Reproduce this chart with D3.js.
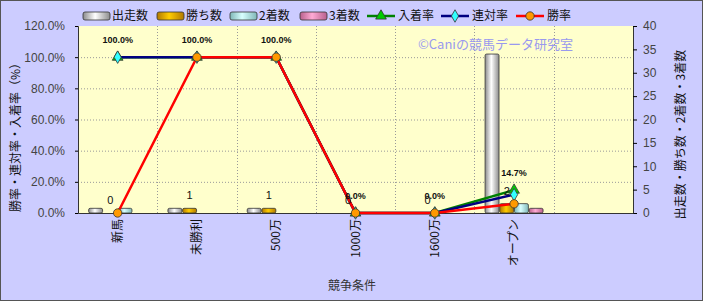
<!DOCTYPE html>
<html>
<head>
<meta charset="utf-8">
<script src="https://cdn.jsdelivr.net/npm/d3@7"></script>
<style>
  body { margin: 0; background: #fff; }
  svg text { font-family: "Noto Sans CJK JP", "Noto Sans", sans-serif; }
</style>
</head>
<body>
<div id="chart"></div>
<script>
const categories = ['新馬', '未勝利', '500万', '1000万', '1600万', 'オープン', '']
const runs = [1, 1, 1, 0, 0, 34, null]
const wins = [0, 1, 1, 0, 0, 2, null]
const seconds = [1, 0, 0, 0, 0, 2, null]
const thirds = [0, 0, 0, 0, 0, 1, null]
const placeRate = [100, 100, 100, 0, 0, 14.7, null]
const rentaiRate = [100, 100, 100, 0, 0, 11.8, null]
const winRate = [0, 100, 100, 0, 0, 5.9, null]
const leftTicks = [0, 20, 40, 60, 80, 100, 120]
const rightTicks = [0, 5, 10, 15, 20, 25, 30, 35, 40]

const W = 703, H = 301
const margin = { top: 26, left: 78, right: 70, bottom: 88 }
const width = W - margin.left - margin.right
const height = H - margin.top - margin.bottom

const svg = d3.select('#chart').append('svg')
    .attr('width', W)
    .attr('height', H)

// gradients for the bars
const defs = svg.append('defs')
const barColors = [
  { id: 'gRuns', c0: '#8c8c8c', c1: '#ffffff' },
  { id: 'gWins', c0: '#b07800', c1: '#ffcc00' },
  { id: 'gSec', c0: '#7fb7b7', c1: '#d8ffff' },
  { id: 'gThird', c0: '#b8608c', c1: '#ffaad4' }
]
barColors.forEach(function(b) {
  const g = defs.append('linearGradient').attr('id', b.id)
      .attr('x1', 0).attr('x2', 1).attr('y1', 0).attr('y2', 0)
  g.append('stop').attr('offset', '0%').attr('stop-color', b.c0)
  g.append('stop').attr('offset', '45%').attr('stop-color', b.c1)
  g.append('stop').attr('offset', '100%').attr('stop-color', b.c0)
})

svg.append('rect').attr('x', 0.5).attr('y', 0.5)
    .attr('width', W - 1).attr('height', H - 1)
    .attr('fill', '#ccccff').attr('stroke', '#555')

const g = svg.append('g')
    .attr('transform', 'translate(' + margin.left + ',' + margin.top + ')')

g.append('rect').attr('width', width).attr('height', height).attr('fill', '#ffffcc')

const x = d3.scaleBand().domain(d3.range(categories.length)).range([0, width])
const yL = d3.scaleLinear().domain([0, 120]).range([height, 0])
const yR = d3.scaleLinear().domain([0, 40]).range([height, 0])
const cx = function(i) { return x(i) + x.bandwidth() / 2 }

// grid
g.selectAll('.hgrid').data(leftTicks.slice(1, -1)).enter().append('line')
    .attr('x1', 0).attr('x2', width)
    .attr('y1', d => yL(d) + 0.5).attr('y2', d => yL(d) + 0.5)
    .attr('stroke', '#999').attr('stroke-dasharray', '1,2')
g.selectAll('.vgrid').data(d3.range(1, categories.length)).enter().append('line')
    .attr('x1', d => Math.round(x(d)) + 0.5).attr('x2', d => Math.round(x(d)) + 0.5)
    .attr('y1', 0).attr('y2', height)
    .attr('stroke', '#999').attr('stroke-dasharray', '1,2')

// bars
const series = [runs, wins, seconds, thirds]
const inner = d3.scaleBand().domain(d3.range(4)).range([-29, 29]).paddingInner(0.05)
series.forEach(function(s, k) {
  const pts = s.map((v, i) => ({ v: v, i: i })).filter(d => d.v !== null && d.v > 0)
  g.selectAll('.bar' + k).data(pts).enter().append('rect')
      .attr('x', d => cx(d.i) + inner(k))
      .attr('y', d => yR(d.v))
      .attr('width', inner.bandwidth())
      .attr('height', d => height - yR(d.v))
      .attr('rx', 1.5)
      .attr('fill', 'url(#' + barColors[k].id + ')')
      .attr('stroke', '#333').attr('stroke-width', 0.8)
})

// axes
const axL = g.append('g').call(d3.axisLeft(yL).tickValues(leftTicks)
    .tickFormat(d => d.toFixed(1) + '%').tickSize(3))
const axR = g.append('g').attr('transform', 'translate(' + width + ',0)')
    .call(d3.axisRight(yR).tickValues(rightTicks).tickSize(4).tickSizeOuter(0))
const axB = g.append('g').attr('transform', 'translate(0,' + height + ')')
    .call(d3.axisBottom(x).tickSize(0).tickFormat(i => categories[i]))
axL.select('.domain').attr('stroke', '#333')
axR.select('.domain').attr('stroke', '#333')
axB.select('.domain').attr('stroke', '#333')
axL.selectAll('text').attr('font-size', 12).attr('fill', '#444').attr('dx', -7)
    .style('font-family', 'Arial, "Liberation Sans", sans-serif')
axR.selectAll('text').attr('font-size', 12).attr('fill', '#444').attr('dx', 3)
    .style('font-family', 'Arial, "Liberation Sans", sans-serif')
axB.selectAll('text')
    .attr('font-size', 12).attr('fill', '#111')
    .attr('transform', 'rotate(-90)')
    .attr('text-anchor', 'end')
    .attr('x', -6).attr('y', 0).attr('dy', '0.35em')

// lines
const lineDefs = [
  { data: placeRate, color: '#008000', marker: 'triangle', fill: '#00cc00' },
  { data: rentaiRate, color: '#000080', marker: 'diamond', fill: '#33ffff' },
  { data: winRate, color: '#ff0000', marker: 'circle', fill: '#ff9900' }
]
const line = d3.line().defined(d => d.v !== null).x(d => cx(d.i)).y(d => yL(d.v))
const sym = {
  triangle: d3.symbol().type(d3.symbolTriangle).size(50),
  diamond: d3.symbol().type(d3.symbolDiamond).size(45),
  circle: d3.symbol().type(d3.symbolCircle).size(55)
}
lineDefs.forEach(function(L) {
  const pts = L.data.map((v, i) => ({ v: v, i: i }))
  g.append('path').datum(pts).attr('d', line)
      .attr('fill', 'none').attr('stroke', L.color).attr('stroke-width', 2.5)
})
lineDefs.forEach(function(L) {
  const pts = L.data.map((v, i) => ({ v: v, i: i })).filter(d => d.v !== null)
  g.selectAll('.m' + L.marker).data(pts).enter().append('path')
      .attr('d', sym[L.marker])
      .attr('transform', d => 'translate(' + cx(d.i) + ',' + yL(d.v) + ')')
      .attr('fill', L.fill).attr('stroke', '#333').attr('stroke-width', 0.8)
})

// data labels
g.selectAll('.lblRate').data(placeRate.filter(d => d !== null)).enter().append('text')
    .attr('x', (d, i) => cx(i))
    .attr('y', d => yL(d) - 14)
    .attr('text-anchor', 'middle')
    .attr('font-size', 9).attr('font-weight', 'bold').attr('fill', '#111')
    .style('font-family', 'Arial, "Liberation Sans", sans-serif')
    .text(d => d.toFixed(1) + '%')
g.selectAll('.lblWins').data(wins.filter(d => d !== null)).enter().append('text')
    .attr('x', (d, i) => cx(i) + inner(1) + inner.bandwidth() / 2)
    .attr('y', d => yR(d) - 9)
    .attr('text-anchor', 'middle')
    .attr('font-size', 11).attr('fill', '#111')
    .style('font-family', 'Arial, "Liberation Sans", sans-serif')
    .text(d => d)

// watermark
g.append('text').attr('x', 418 - margin.left).attr('y', 49 - margin.top)
    .attr('font-size', 13).attr('fill', '#9999ee')
    .text('©Caniの競馬データ研究室')

// axis titles
svg.append('text').attr('transform', 'translate(20,' + (margin.top + height / 2 + 15) + ') rotate(-90)')
    .attr('text-anchor', 'middle').attr('font-size', 12).attr('fill', '#111')
    .text('勝率・連対率・入着率（%）')
svg.append('text').attr('transform', 'translate(685,' + (margin.top + height / 2 + 15) + ') rotate(-90)')
    .attr('text-anchor', 'middle').attr('font-size', 12).attr('fill', '#111')
    .text('出走数・勝ち数・2着数・3着数')
svg.append('text').attr('x', 352).attr('y', 290)
    .attr('text-anchor', 'middle').attr('font-size', 12).attr('fill', '#333')
    .text('競争条件')

// legend
const legend = svg.append('g').attr('transform', 'translate(0,16)')
const barLegend = ['出走数', '勝ち数', '2着数', '3着数']
const barLegX = [83, 157, 230, 300]
barLegend.forEach(function(name, k) {
  legend.append('rect').attr('x', barLegX[k]).attr('y', -4).attr('width', 27).attr('height', 8)
      .attr('rx', 2).attr('fill', 'url(#' + barColors[k].id + ')')
      .attr('stroke', '#333').attr('stroke-width', 0.8)
  legend.append('text').attr('x', barLegX[k] + 29).attr('y', 0).attr('dy', '0.35em')
      .attr('font-size', 12).attr('fill', '#111').text(name)
})
const lineLegend = ['入着率', '連対率', '勝率']
const lineLegX = [367, 441, 516]
lineDefs.forEach(function(L, k) {
  legend.append('line').attr('x1', lineLegX[k]).attr('x2', lineLegX[k] + 28)
      .attr('stroke', L.color).attr('stroke-width', 2.5)
  legend.append('path').attr('d', sym[L.marker])
      .attr('transform', 'translate(' + (lineLegX[k] + 14) + ',0)')
      .attr('fill', L.fill).attr('stroke', '#333').attr('stroke-width', 0.8)
  legend.append('text').attr('x', lineLegX[k] + 31).attr('y', 0).attr('dy', '0.35em')
      .attr('font-size', 12).attr('fill', '#111').text(lineLegend[k])
})
</script>
</body>
</html>
